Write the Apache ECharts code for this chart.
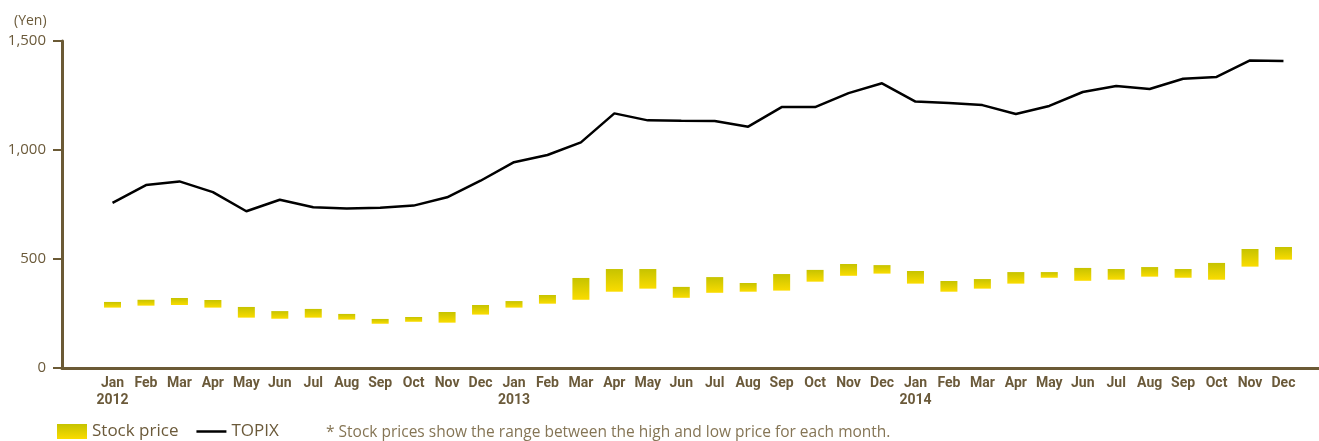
<!DOCTYPE html>
<html>
<head>
<meta charset="utf-8">
<script src="https://cdn.jsdelivr.net/npm/echarts@6/dist/echarts.min.js"></script>
<style>
    html, body { margin: 0; padding: 0; background: #fff; }
    #chart { width: 1319px; height: 441px; }
</style>
</head>
<body>
<div id="chart"></div>
<script>
// categories (month labels, year under each January)
const months = [
    'Jan\n2012', 'Feb', 'Mar', 'Apr', 'May', 'Jun', 'Jul', 'Aug', 'Sep', 'Oct', 'Nov', 'Dec',
    'Jan\n2013', 'Feb', 'Mar', 'Apr', 'May', 'Jun', 'Jul', 'Aug', 'Sep', 'Oct', 'Nov', 'Dec',
    'Jan\n2014', 'Feb', 'Mar', 'Apr', 'May', 'Jun', 'Jul', 'Aug', 'Sep', 'Oct', 'Nov', 'Dec'
];
// monthly high / low stock price (Yen)
const stockHigh = [
    303, 313, 321, 312, 280, 261, 271, 248, 225, 234, 257, 289,
    307, 335, 413, 454, 454, 372, 417, 390, 431, 450, 477, 472,
    445, 399, 408, 440, 440, 459, 454, 463, 454, 482, 546, 555
];
const stockLow = [
    277, 286, 289, 277, 231, 226, 231, 222, 203, 212, 208, 245,
    277, 295, 313, 350, 364, 322, 345, 350, 355, 396, 423, 433,
    387, 350, 364, 387, 414, 400, 405, 419, 414, 405, 465, 497
];
// TOPIX
const topix = [
    757, 839, 856, 807, 719, 772, 737, 732, 735, 745, 783, 859,
    944, 977, 1035, 1168, 1136, 1134, 1133, 1107, 1197, 1197, 1261, 1306,
    1222, 1216, 1206, 1165, 1202, 1266, 1294, 1280, 1327, 1335, 1411, 1408
];
const yTicks = [0, 500, 1000, 1500];

const brown = '#6b5a35';
const textColor = '#6b5a3a';
const barGradient = new echarts.graphic.LinearGradient(0, 0, 0, 1, [
    { offset: 0, color: '#c6c300' },
    { offset: 1, color: '#fadc00' }
]);

const option = {
    animation: false,
    title: [
        {
            text: '(Yen)',
            left: 9,
            top: 9,
            textStyle: { color: textColor, fontSize: 14, fontWeight: 'normal', fontFamily: 'Open Sans' }
        },
        {
            text: '* Stock prices show the range between the high and low price for each month.',
            left: 321,
            top: 420,
            textStyle: { color: '#857555', fontSize: 15.5, fontWeight: 'normal', fontFamily: 'Open Sans' }
        }
    ],
    legend: {
        left: 52,
        top: 418,
        itemWidth: 30,
        itemHeight: 15,
        itemGap: 18,
        data: [
            { name: 'Stock price', icon: 'rect', itemStyle: { color: barGradient } },
            { name: 'TOPIX', icon: 'path://M0,0L30,0L30,2.5L0,2.5Z', itemStyle: { color: '#000' } }
        ],
        textStyle: { color: textColor, fontSize: 17, fontFamily: 'Open Sans' }
    },
    grid: [
        // axis frame
        { left: 62, right: 0, top: 41, bottom: 73 },
        // data area
        { left: 95.8, right: 18.8, top: 41, bottom: 73 }
    ],
    xAxis: [
        {
            type: 'value',
            gridIndex: 0,
            min: 0,
            max: 1,
            axisLine: { show: true, lineStyle: { color: brown, width: 3 } },
            axisTick: { show: false },
            axisLabel: { show: false },
            splitLine: { show: false }
        },
        {
            type: 'category',
            gridIndex: 1,
            data: months,
            boundaryGap: true,
            axisLine: { show: false },
            axisTick: { show: false },
            axisLabel: {
                interval: 0,
                margin: 7,
                color: textColor,
                fontSize: 14,
                fontWeight: 'bold',
                lineHeight: 17,
                fontFamily: 'Roboto'
            }
        }
    ],
    yAxis: [
        {
            type: 'value',
            gridIndex: 0,
            min: yTicks[0],
            max: yTicks[yTicks.length - 1],
            interval: 500,
            axisLine: { show: true, lineStyle: { color: brown, width: 3 } },
            axisTick: { show: true, length: 9, lineStyle: { color: brown, width: 2 } },
            axisLabel: {
                margin: 16,
                color: textColor,
                fontSize: 15,
                fontFamily: 'Open Sans',
                formatter: (v) => v.toLocaleString('en-US')
            },
            splitLine: { show: false }
        },
        {
            type: 'value',
            gridIndex: 1,
            min: yTicks[0],
            max: yTicks[yTicks.length - 1],
            interval: 500,
            show: false
        }
    ],
    series: [
        {
            name: 'low',
            type: 'bar',
            xAxisIndex: 1,
            yAxisIndex: 1,
            stack: 'range',
            barWidth: 17,
            itemStyle: { color: 'transparent' },
            silent: true,
            data: stockLow
        },
        {
            name: 'Stock price',
            type: 'bar',
            xAxisIndex: 1,
            yAxisIndex: 1,
            stack: 'range',
            barWidth: 17,
            itemStyle: { color: barGradient },
            data: stockHigh.map((h, i) => h - stockLow[i])
        },
        {
            name: 'TOPIX',
            type: 'line',
            xAxisIndex: 1,
            yAxisIndex: 1,
            symbol: 'none',
            lineStyle: { color: '#000', width: 2.5 },
            itemStyle: { color: '#000' },
            data: topix
        }
    ]
};

const myChart = echarts.init(document.getElementById('chart'));
myChart.setOption(option);
</script>
</body>
</html>
